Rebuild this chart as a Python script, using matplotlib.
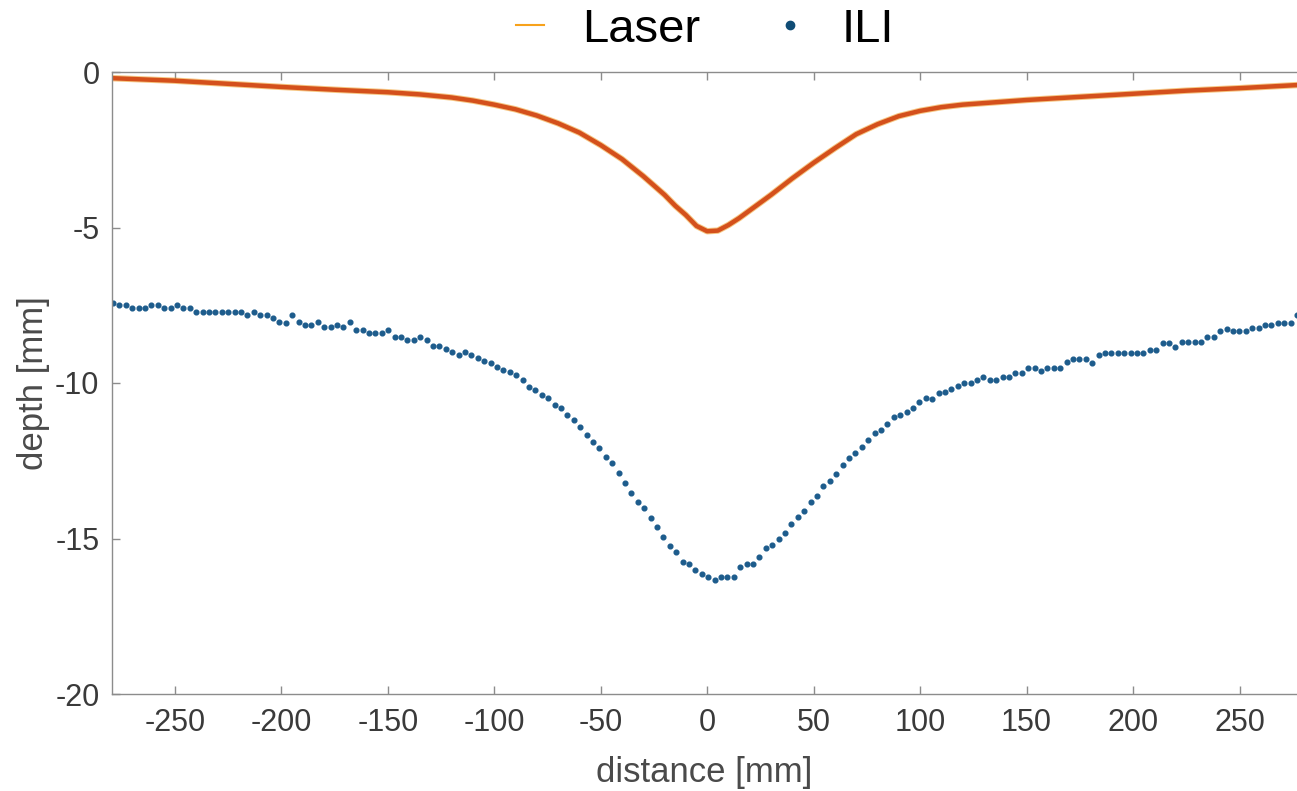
import numpy as np
import matplotlib
matplotlib.use("Agg")
import matplotlib.pyplot as plt
from matplotlib.lines import Line2D

plt.rcParams['font.family'] = ['Liberation Sans', 'DejaVu Sans']

# ---- data ----
laser_x = [-279, -250, -225, -200, -175, -150, -135, -120, -110, -100, -90, -80, -70, -60,
           -50, -40, -30, -20, -15, -10, -5, 0, 5, 10, 15, 20, 30, 40, 50, 60, 70, 80, 90,
           100, 110, 120, 150, 175, 200, 225, 250, 277]
laser_depth = [-0.2, -0.28, -0.38, -0.48, -0.57, -0.65, -0.72, -0.82, -0.92, -1.05, -1.2,
               -1.40, -1.65, -1.95, -2.35, -2.8, -3.35, -3.95, -4.3, -4.6, -4.95, -5.12,
               -5.1, -4.92, -4.7, -4.45, -3.95, -3.42, -2.92, -2.45, -2.0, -1.68, -1.42,
               -1.25, -1.13, -1.05, -0.9, -0.8, -0.7, -0.6, -0.52, -0.42]

ili_depth = [
    # left plateau
    -7.42, -7.49, -7.49, -7.60, -7.60, -7.60, -7.49, -7.49, -7.60, -7.60, -7.49, -7.60,
    -7.60, -7.71, -7.71, -7.71, -7.71, -7.71, -7.71, -7.71, -7.71, -7.81, -7.71, -7.81,
    -7.81, -7.92, -8.03, -8.08, -7.81, -8.03, -8.13, -8.13, -8.03, -8.19, -8.19, -8.13,
    -8.19, -8.03, -8.30, -8.30, -8.40, -8.40, -8.40, -8.30, -8.51, -8.51, -8.62, -8.62,
    # descending left flank
    -8.51, -8.62, -8.81, -8.81, -8.92, -9.01, -9.10, -9.01, -9.10, -9.21, -9.28, -9.37,
    -9.47, -9.58, -9.66, -9.74, -9.90, -10.12, -10.22, -10.38, -10.49, -10.71, -10.81,
    -11.03, -11.19, -11.40, -11.67, -11.89, -12.10, -12.37, -12.58, -12.90, -13.23,
    # bottom
    -13.53, -13.82, -14.03, -14.33, -14.62, -14.94, -15.24, -15.45, -15.74, -15.82,
    -16.01, -16.14, -16.23, -16.33, -16.23, -16.23, -16.23, -15.91, -15.82, -15.82,
    -15.61, -15.32, -15.21, -15.03, -14.83, -14.53, -14.32, -14.11, -13.82, -13.63, -13.31,
    # ascending right flank
    -13.14, -12.93, -12.64, -12.42, -12.24, -12.05, -11.83, -11.62, -11.51, -11.33,
    -11.10, -11.03, -10.92, -10.81, -10.60, -10.49, -10.52, -10.31, -10.28, -10.20,
    -10.10, -10.01, -10.01, -9.90, -9.80, -9.90, -9.90, -9.80, -9.80, -9.69, -9.69, -9.53,
    # right plateau
    -9.53, -9.60, -9.53, -9.53, -9.53, -9.31, -9.24, -9.24, -9.24, -9.35, -9.10, -9.03,
    -9.03, -9.03, -9.03, -9.03, -9.03, -9.03, -8.94, -8.94, -8.72, -8.72, -8.83, -8.67,
    -8.67, -8.67, -8.67, -8.53, -8.53, -8.32, -8.27, -8.32, -8.32, -8.32, -8.24, -8.24,
    -8.14, -8.14, -8.06, -8.06, -8.06, -7.81,
]
ili_x = np.linspace(-279, 277, len(ili_depth))

x_ticks = [-250, -200, -150, -100, -50, 0, 50, 100, 150, 200, 250]
y_ticks = [0, -5, -10, -15, -20]

# ---- figure ----
fig = plt.figure(figsize=(12.97, 7.91), dpi=100)
ax = fig.add_axes([112/1297, 97/791, 1 - 112/1297, (694 - 72)/791])

ax.plot(laser_x, laser_depth, color='#F0A030', lw=4.6, solid_capstyle='round', alpha=0.6)
ax.plot(laser_x, laser_depth, color='#D4501C', lw=3.2, solid_capstyle='round')
ax.plot(ili_x, ili_depth, linestyle='none', marker='o', markersize=3.4,
        color='#1D5C8C', markeredgecolor='#1D5C8C')

ax.set_xlim(-279.5, 277)
ax.set_ylim(-20, 0)
ax.set_xticks(x_ticks)
ax.set_yticks(y_ticks)
ax.set_xticklabels([str(t) for t in x_ticks])
ax.set_yticklabels([str(t) for t in y_ticks])

for s in ['left', 'bottom', 'top']:
    ax.spines[s].set_color('#8c8c8c')
    ax.spines[s].set_linewidth(1.0)
ax.spines['right'].set_visible(False)
ax.tick_params(direction='in', length=6, width=1.0, color='#8c8c8c',
               labelsize=22, labelcolor='#3a3a3a', top=True)
ax.tick_params(axis='x', pad=10)
ax.tick_params(axis='y', pad=9)

ax.set_xlabel('distance [mm]', fontsize=25, color='#4a4a4a', labelpad=13)
ax.set_ylabel('depth [mm]', fontsize=25, color='#4a4a4a', labelpad=4)

handles = [Line2D([0], [0], color='#F7A21B', lw=1.5),
           Line2D([0], [0], linestyle='none', marker='o', markersize=6, color='#0F4C75')]
fig.legend(handles, ['Laser', 'ILI'], loc='center', bbox_to_anchor=(705/1297, 1 - 30/791),
           ncol=2, frameon=False, fontsize=34, handlelength=0.6, handletextpad=0.8,
           columnspacing=1.6)

fig.savefig('out.png', dpi=100)
